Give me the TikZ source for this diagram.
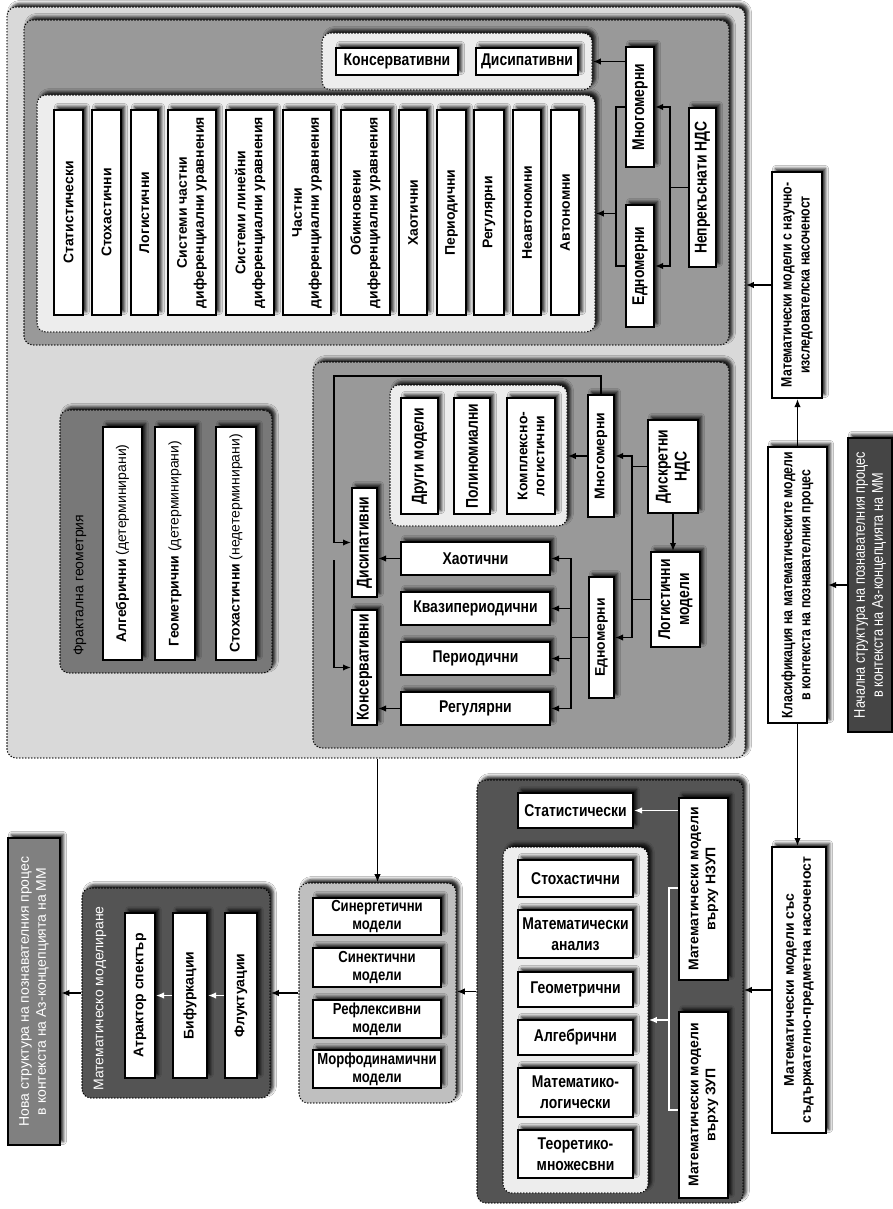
\documentclass[tikz,border=0pt]{standalone}
\usepackage{fontspec}
\setmainfont{Liberation Sans}
\newfontfamily\wf{Liberation Sans}
\newfontfamily\nf[FakeStretch=0.82]{Liberation Sans}
\usetikzlibrary{arrows.meta,shadows.blur,fit}
\definecolor{cOuter}{gray}{0.85}
\definecolor{cMid}{gray}{0.60}
\definecolor{cLight}{gray}{0.93}
\definecolor{cFrac}{gray}{0.47}
\definecolor{cDark}{gray}{0.33}
\definecolor{cMB}{gray}{0.75}
\definecolor{cNova}{gray}{0.50}
\definecolor{cNach}{gray}{0.27}
\tikzset{
 shd/.style={blur shadow={shadow xshift=3.5pt,shadow yshift=3.5pt,shadow blur radius=3pt,shadow opacity=85}},
 wbox/.style={draw=black,line width=2pt,fill=white,inner sep=0pt,shd},
 grp/.style={draw=black,line width=1.6pt,dash pattern=on 0pt off 3pt,line cap=round,rounded corners=9pt,inner sep=0pt,shd},
 rt/.style={rotate=90,align=center,inner sep=0pt},
 ht/.style={align=center,inner sep=0pt},
 wb/.style={font=\wf\bfseries\fontsize{14}{17}\selectfont},
 wr/.style={font=\wf\fontsize{14}{17}\selectfont},
 nb/.style={font=\nf\bfseries\fontsize{17}{19}\selectfont},
 nb2/.style={font=\nf\bfseries\fontsize{17}{21}\selectfont},
 nbt/.style={font=\nf\bfseries\fontsize{16}{18}\selectfont},
 nbs/.style={font=\nf\bfseries\fontsize{15}{18}\selectfont},
 nrw/.style={font=\nf\fontsize{15.5}{18}\selectfont,text=white},
 wrw/.style={font=\wf\fontsize{14}{17}\selectfont,text=white},
 ln/.style={line width=1.8pt},
 ar/.style={line width=1.8pt,-{Latex[length=8pt,width=6.5pt]}},
 war/.style={ar,white},
 wln/.style={ln,white}
}
\newcommand\RB[5]{\node[wbox,fit={(#2)(#3)},label={[rt,#4,name=#1-t]center:#5}] (#1) {};}
\newcommand\HB[5]{\node[wbox,fit={(#2)(#3)},label={[ht,#4,name=#1-t]center:#5}] (#1) {};}
\begin{document}
\begin{tikzpicture}[x=1pt,y=-1pt]
\useasboundingbox (0,0) rectangle (893,1209);
\fill[white] (0,0) rectangle (893,1209);
% ---------- outer container ----------
\node[grp,fill=cOuter,fit={(7,7)(745,758)}] (outer) {};
% ---------- continuous NDS ----------
\node[grp,fill=cMid,fit={(24,20)(729,345)}] (topG) {};
\node[grp,fill=cLight,fit={(322,33)(592,90)}] (smB) {};
\node[grp,fill=cLight,fit={(37,95)(595,332)}] (inT) {};
\HB{konT}{336,48}{458,75}{nb}{Консервативни}
\HB{disT}{476,48}{578,75}{nb}{Дисипативни}
\RB{mnT}{626,47}{654,167}{nb}{Многомерни}
\RB{edT}{626,205}{654,327}{nb}{Едномерни}
\RB{nds}{689,108}{716,267}{nb}{Непрекъснати НДС}
\RB{t1}{54,110}{83,315}{wb}{Статистически}
\RB{t2}{92,110}{121,315}{wb}{Стохастични}
\RB{t3}{131,110}{158,315}{wb}{Логистични}
\RB{t4}{168,110}{216,315}{wb}{Системи частни\\диференциални уравнения}
\RB{t5}{226,110}{274,315}{wb}{Системи линейни\\диференциални уравнения}
\RB{t6}{283,110}{331,315}{wb}{Частни\\диференциални уравнения}
\RB{t7}{341,110}{390,315}{wb}{Обикновени\\диференциални уравнения}
\RB{t8}{399,110}{427,315}{wb}{Хаотични}
\RB{t9}{437,110}{466,315}{wb}{Периодични}
\RB{t10}{474,110}{504,315}{wb}{Регулярни}
\RB{t11}{513,110}{541,315}{wb}{Неавтономни}
\RB{t12}{551,110}{579,315}{wb}{Автономни}
% ---------- fractal geometry ----------
\node[grp,fill=cFrac,fit={(60,410)(272,673)}] (frG) {};
\node[rotate=90,anchor=west,inner sep=0pt,wr] (frL) at (80,656) {Фрактална геометрия};
\RB{fa}{103,427}{142,660}{wb}{Алгебрични {\mdseries (детерминирани)}}
\RB{fg}{155,427}{195,660}{wb}{Геометрични {\mdseries (детерминирани)}}
\RB{fs}{216,427}{256,660}{wb}{Стохастични {\mdseries (недетерминирани)}}
% ---------- discrete NDS ----------
\node[grp,fill=cMid,fit={(313,362)(729,748)}] (dG) {};
\node[grp,fill=cLight,fit={(390,385)(567,526)}] (inD) {};
\RB{dr}{401,398}{438,514}{nb}{Други модели}
\RB{pol}{454,398}{490,514}{nb}{Полиномиални}
\RB{kl}{507,398}{555,514}{wb}{Комплексно-\\логистични}
\RB{mnD}{588,395}{614,517}{wb}{Многомерни}
\RB{dNDS}{648,420}{698,513}{nb}{Дискретни\\НДС}
\RB{log}{651,552}{700,647}{nb}{Логистични\\модели}
\RB{edD}{589,577}{614,698}{wb}{Едномерни}
\HB{hao}{401,542}{550,575}{nb}{Хаотични}
\HB{kvp}{401,592}{550,625}{nb}{Квазипериодични}
\HB{per}{401,642}{550,675}{nb}{Периодични}
\HB{reg}{401,692}{550,725}{nb}{Регулярни}
\RB{disD}{352,488}{377,597}{nb}{Дисипативни}
\RB{konD}{352,610}{377,725}{nb}{Консервативни}
% ---------- right column ----------
\RB{nauch}{772,172}{822,398}{nbs}{Математически модели с научно-\\изследователска насоченост}
\RB{klas}{768,447}{827,723}{nbs}{Класификация на математическите модели\\в контекста на познавателния процес}
\node[wbox,fill=cNach,fit={(848,438)(892,732)},label={[rt,nrw,name=nach-t]center:Начална структура на познавателния процес\\в контекста на Аз-концепцията на ММ}] (nach) {};
\RB{sadj}{772,847}{826,1133}{wb}{Математически модели със\\съдържателно-предметна насоченост}
% ---------- ZUP ----------
\node[grp,fill=cDark,fit={(477,780)(743,1203)}] (zup) {};
\HB{stat}{518,793}{633,828}{nb}{Статистически}
\node[grp,fill=cLight,fit={(503,847)(648,1193)}] (inZ) {};
\HB{z1}{518,860}{633,897}{nb2}{Стохастични}
\HB{z2}{518,910}{633,958}{nb2}{Математически\\анализ}
\HB{z3}{518,972}{633,1007}{nb2}{Геометрични}
\HB{z4}{518,1020}{633,1055}{nb2}{Алгебрични}
\HB{z5}{518,1068}{633,1117}{nb2}{Математико-\\логически}
\HB{z6}{518,1130}{633,1178}{nb2}{Теоретико-\\множесвни}
\RB{nzup}{679,798}{728,980}{wb}{Математически модели\\върху НЗУП}
\RB{zupM}{679,1012}{728,1198}{wb}{Математически модели\\върху ЗУП}
% ---------- middle ----------
\node[grp,fill=cMB,fit={(299,883)(456,1103)}] (mid) {};
\HB{m1}{313,898}{441,935}{nbt}{Синергетични\\модели}
\HB{m2}{313,948}{441,987}{nbt}{Синектични\\модели}
\HB{m3}{313,1000}{441,1038}{nbt}{Рефлексивни\\модели}
\HB{m4}{313,1050}{441,1088}{nbt}{Морфодинамични\\модели}
% ---------- mathematical modelling ----------
\node[grp,fill=cDark,fit={(82,888)(270,1098)}] (mm) {};
\node[rotate=90,anchor=west,inner sep=0pt,wrw] (mmL) at (100,1091) {Математическо моделиране};
\RB{atr}{125,913}{155,1078}{wb}{Атрактор спектър}
\RB{bif}{173,913}{207,1078}{wb}{Бифуркации}
\RB{flu}{225,913}{257,1078}{wb}{Флуктуации}
% ---------- new structure ----------
\node[wbox,fill=cNova,line width=2.6pt,fit={(8,838)(60,1145)},label={[rt,wrw,name=nova-t]center:Нова структура на познавателния процес\\в контекста на Аз-концепцията на ММ}] (nova) {};
% ---------- connectors: continuous ----------
\draw[ar] (mnT.west |- smB.east) -- (smB.east);
\draw[ar] (nds.west) -- ++(-18,0) |- (mnT.east);
\draw[ar] (nds.west) -- ++(-18,0) |- (edT.east);
\draw[ln] (mnT.west) -- ++(-9,0) |- (edT.west);
\draw[ar] (inT.east -| mnT.west) ++(-9,0) -- (inT.east);
% ---------- connectors: discrete ----------
\draw[ar] (dNDS.west) -- ++(-15,0) |- (mnD.east);
\draw[ar] (dNDS.west) -- ++(-15,0) |- (edD.east);
\draw[ln] (log.west) -- ++(-18,0);
\draw[ar] (dNDS.south) -- (dNDS.south |- log.north);
\draw[ar] (mnD.west) -- (mnD.west -| inD.east);
\draw[ar] (mnD.north) |- (334,376) |- (disD.west);
\draw[ar] (334,560) |- (konD.west);
\draw[ar] (edD.west) -- ++(-17,0) |- (hao.east);
\draw[ar] (edD.west) -- ++(-17,0) |- (kvp.east);
\draw[ar] (edD.west) -- ++(-17,0) |- (per.east);
\draw[ar] (edD.west) -- ++(-17,0) |- (reg.east);
\draw[ar] (hao.west) -- (hao.west -| disD.east);
\draw[ar] (reg.west) -- (reg.west -| konD.east);
% ---------- connectors: right column ----------
\draw[ar] (nach.west) -- (nach.west -| klas.east);
\draw[ar] (klas.north) -- (klas.north |- nauch.south);
\draw[ar] (klas.south) -- (klas.south |- sadj.north);
\draw[ar] (nauch.west) -- (nauch.west -| outer.east);
\draw[ar] (sadj.west) -- (sadj.west -| zup.east);
% ---------- connectors: bottom ----------
\draw[war] (nzup.west |- stat.east) -- (stat.east);
\draw[wln] (nzup.west |- 0,888) -- ++(-9,0) |- (zupM.west |- 0,1110);
\draw[war] (inZ.east -| 670,0) -- (inZ.east);
\draw[ar] (zup.west) -- (zup.west -| mid.east);
\draw[ar] (mid.north |- outer.south) -- (mid.north);
\draw[ar] (mid.west) -- (mid.west -| mm.east);
\draw[ar] (mm.west) -- (mm.west -| nova.east);
\draw[war] (flu.west) -- (flu.west -| bif.east);
\draw[war] (bif.west) -- (bif.west -| atr.east);
\end{tikzpicture}
\end{document}
